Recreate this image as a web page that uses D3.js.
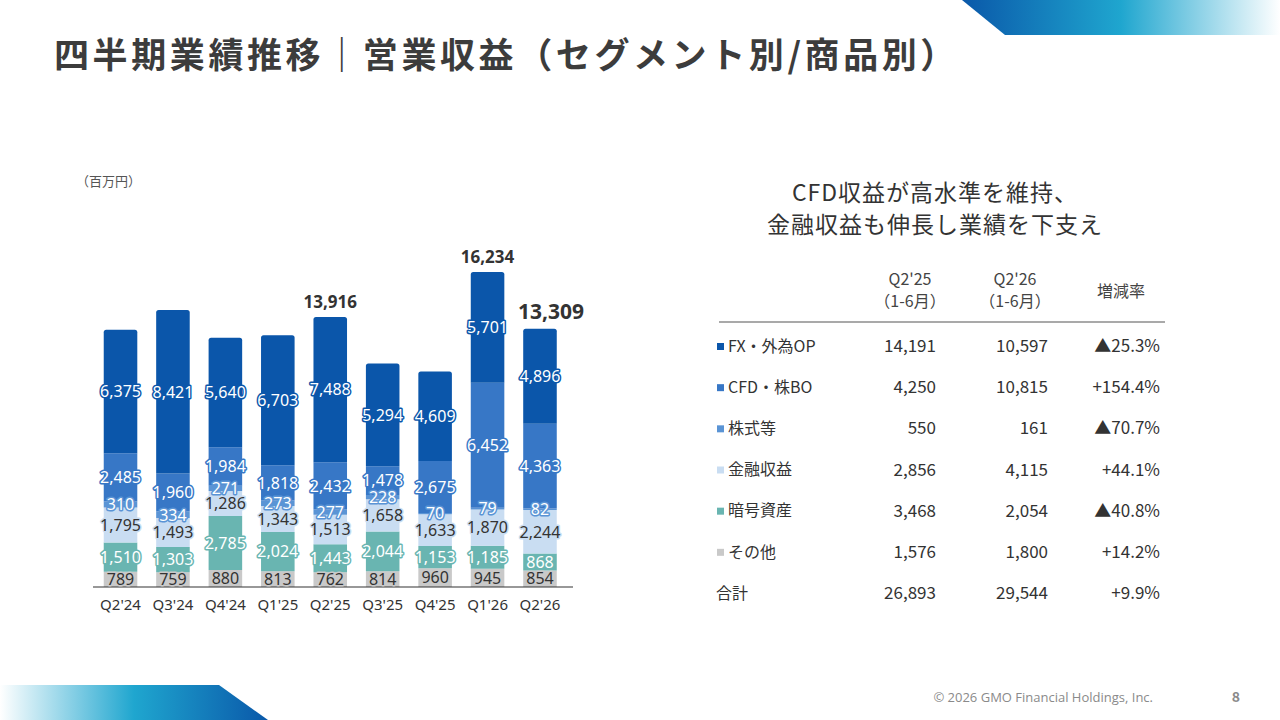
<!DOCTYPE html>
<html><head><meta charset="utf-8">
<script src="https://cdn.jsdelivr.net/npm/d3@7"></script>
<style>
html,body{margin:0;padding:0;background:#fff;}
svg{display:block;font-family:"Noto Sans CJK JP","Noto Sans",sans-serif;}
</style></head>
<body>
<svg id="c" width="1280" height="720"></svg>
<script>
// ---- data ----
const quarters = ["Q2'24","Q3'24","Q4'24","Q1'25","Q2'25","Q3'25","Q4'25","Q1'26","Q2'26"];
const seriesNames = ["その他","暗号資産","金融収益","株式等","CFD・株BO","FX・外為OP"];
const other   = [789, 759, 880, 813, 762, 814, 960, 945, 854];
const crypto  = [1510, 1303, 2785, 2024, 1443, 2044, 1153, 1185, 868];
const finance = [1795, 1493, 1286, 1343, 1513, 1658, 1633, 1870, 2244];
const stocks  = [310, 334, 271, 273, 277, 228, 70, 79, 82];
const cfd     = [2485, 1960, 1984, 1818, 2432, 1478, 2675, 6452, 4363];
const fx      = [6375, 8421, 5640, 6703, 7488, 5294, 4609, 5701, 4896];
const totalLabels = [null, null, null, null, 13916, null, null, 16234, 13309];

const tableCols = ["Q2'25", "Q2'26", "増減率"];
const tableRows = ["FX・外為OP","CFD・株BO","株式等","金融収益","暗号資産","その他","合計"];
const tableQ225 = [14191, 4250, 550, 2856, 3468, 1576, 26893];
const tableQ226 = [10597, 10815, 161, 4115, 2054, 1800, 29544];
const tableRate = ["▲25.3%","+154.4%","▲70.7%","+44.1%","▲40.8%","+14.2%","+9.9%"];

// ---- styles ----
const colors = ["#c9c9c9","#69b5b1","#c9ddf2","#5a94d5","#3777c6","#0b56aa"];
const labelFill = ["#333","#fff","#333","#fff","#fff","#fff"];

const svg = d3.select("#c");
const defs = svg.append("defs");
const g1 = defs.append("linearGradient").attr("id","gTop").attr("x1","0").attr("x2","1");
g1.append("stop").attr("offset","0").attr("stop-color","#0a58a9");
g1.append("stop").attr("offset","0.5").attr("stop-color","#1fa6cf");
g1.append("stop").attr("offset","1").attr("stop-color","#ffffff");
const g2 = defs.append("linearGradient").attr("id","gBot").attr("x1","0").attr("x2","1");
g2.append("stop").attr("offset","0").attr("stop-color","#ffffff");
g2.append("stop").attr("offset","0.5").attr("stop-color","#1fa6cf");
g2.append("stop").attr("offset","1").attr("stop-color","#0a58a9");

// decorations
svg.append("path").attr("d","M962,0 L1280,0 L1280,35 L1005,35 Z").attr("fill","url(#gTop)");
svg.append("path").attr("d","M0,685 L219,685 L268,720 L0,720 Z").attr("fill","url(#gBot)");

// title
svg.append("text").attr("x",54).attr("y",68).attr("font-size",35).attr("font-weight",700)
  .attr("letter-spacing","3.6px").attr("fill","#3c3c3c")
  .text("四半期業績推移｜営業収益（セグメント別/商品別）");

svg.append("text").attr("x",76).attr("y",186).attr("font-size",13).attr("fill","#555").text("（百万円）");

// footer
svg.append("text").attr("x",1153).attr("y",702).attr("text-anchor","end").attr("font-size",13)
  .attr("fill","#8a8a8a").attr("font-family","'Open Sans','Noto Sans',sans-serif").text("© 2026 GMO Financial Holdings, Inc.");
svg.append("text").attr("x",1236).attr("y",702).attr("text-anchor","middle").attr("font-size",14).attr("font-weight",700)
  .attr("fill","#8a8a8a").text("8");

// ---- chart ----
const seriesData = [other, crypto, finance, stocks, cfd, fx];
const rows = quarters.map((q,i)=>{ const o={q}; seriesNames.forEach((s,k)=>o[s]=seriesData[k][i]); return o; });
const stack = d3.stack().keys(seriesNames)(rows);

const x = d3.scaleBand().domain(quarters).range([94.3, 566.2]).paddingInner(0.36).paddingOuter(0.18);
const y = d3.scaleLinear().domain([0, 16234]).range([587, 272]);

const chart = svg.append("g");
stack.forEach((layer,k)=>{
  const isTop = k === stack.length-1;
  chart.append("g").selectAll("path").data(layer).enter().append("path")
    .attr("fill", colors[k])
    .attr("d", d=>{
      const x0=x(d.data.q), w=x.bandwidth(), y0=y(d[0]), y1=y(d[1]);
      if(!isTop) return `M${x0},${y0}V${y1}H${x0+w}V${y0}Z`;
      const r=2.5;
      return `M${x0},${y0}V${y1+r}Q${x0},${y1} ${x0+r},${y1}H${x0+w-r}Q${x0+w},${y1} ${x0+w},${y1+r}V${y0}Z`;
    });
});

// axis
const axis = chart.append("g").attr("transform","translate(0,587)")
  .call(d3.axisBottom(x).tickSize(0).tickPadding(12));
axis.select(".domain").attr("d","M93,0H573").attr("stroke","#333").attr("stroke-width",1.2);
axis.selectAll("text").attr("font-size",15).attr("fill","#333").attr("font-family","'Noto Sans',sans-serif");

// segment labels
stack.forEach((layer,k)=>{
  chart.append("g").selectAll("text").data(layer).enter().append("text")
    .attr("x", d=>x(d.data.q)+x.bandwidth()/2)
    .attr("y", d=>(y(d[0])+y(d[1]))/2)
    .attr("dy","0.36em")
    .attr("text-anchor","middle")
    .attr("font-size",16)
    .attr("font-family","'Noto Sans',sans-serif")
    .attr("fill", labelFill[k])
    .attr("stroke", colors[k]).attr("stroke-width",3).attr("stroke-linejoin","round")
    .attr("paint-order","stroke")
    .text(d=>d3.format(",")(d[1]-d[0]));
});

// total labels
quarters.forEach((q,i)=>{
  if(totalLabels[i]==null) return;
  const last = i===quarters.length-1;
  chart.append("text")
    .attr("x", x(q)+x.bandwidth()/2 + (last?11:0))
    .attr("y", y(stack[stack.length-1][i][1]) - (last?10:9))
    .attr("text-anchor","middle")
    .attr("font-size", last?21:17).attr("font-weight",700).attr("fill","#333")
    .attr("font-family","'Noto Sans',sans-serif")
    .text(d3.format(",")(totalLabels[i]));
});

// ---- right side ----
svg.append("text").attr("x",935).attr("y",201).attr("text-anchor","middle").attr("font-size",23)
  .attr("letter-spacing","1px").attr("fill","#333").text("CFD収益が高水準を維持、");
svg.append("text").attr("x",935).attr("y",233).attr("text-anchor","middle").attr("font-size",23)
  .attr("letter-spacing","1px").attr("fill","#333").text("金融収益も伸長し業績を下支え");

const colCenters = [910, 1015, 1121];
const colRight = [936, 1048, 1160];
svg.append("text").attr("x",colCenters[0]).attr("y",285).attr("text-anchor","middle").attr("font-size",16).attr("fill","#444").text(tableCols[0]);
svg.append("text").attr("x",colCenters[0]).attr("y",307).attr("text-anchor","middle").attr("font-size",16).attr("fill","#444").text("（1-6月）");
svg.append("text").attr("x",colCenters[1]).attr("y",285).attr("text-anchor","middle").attr("font-size",16).attr("fill","#444").text(tableCols[1]);
svg.append("text").attr("x",colCenters[1]).attr("y",307).attr("text-anchor","middle").attr("font-size",16).attr("fill","#444").text("（1-6月）");
svg.append("text").attr("x",colCenters[2]).attr("y",297).attr("text-anchor","middle").attr("font-size",16).attr("fill","#444").text(tableCols[2]);
svg.append("line").attr("x1",719).attr("x2",1165).attr("y1",322).attr("y2",322).attr("stroke","#555").attr("stroke-width",1.2);

const rowY = d3.scaleLinear().domain([0,6]).range([346, 593]);
const markColors = [colors[5],colors[4],colors[3],colors[2],colors[1],colors[0]];
tableRows.forEach((r,i)=>{
  const cy = rowY(i);
  const hasMark = i < 6;
  if(hasMark){
    svg.append("rect").attr("x",717).attr("y",cy-3).attr("width",7).attr("height",7).attr("fill",markColors[i]);
  }
  svg.append("text").attr("x", hasMark?728:716).attr("y",cy).attr("dy","0.36em").attr("font-size",16).attr("fill","#333").text(r);
  svg.append("text").attr("x",colRight[0]).attr("y",cy).attr("dy","0.36em").attr("text-anchor","end").attr("font-size",17).attr("fill","#333").text(d3.format(",")(tableQ225[i]));
  svg.append("text").attr("x",colRight[1]).attr("y",cy).attr("dy","0.36em").attr("text-anchor","end").attr("font-size",17).attr("fill","#333").text(d3.format(",")(tableQ226[i]));
  svg.append("text").attr("x",colRight[2]).attr("y",cy).attr("dy","0.36em").attr("text-anchor","end").attr("font-size",17).attr("fill","#333").text(tableRate[i]);
});
</script>
</body></html>
